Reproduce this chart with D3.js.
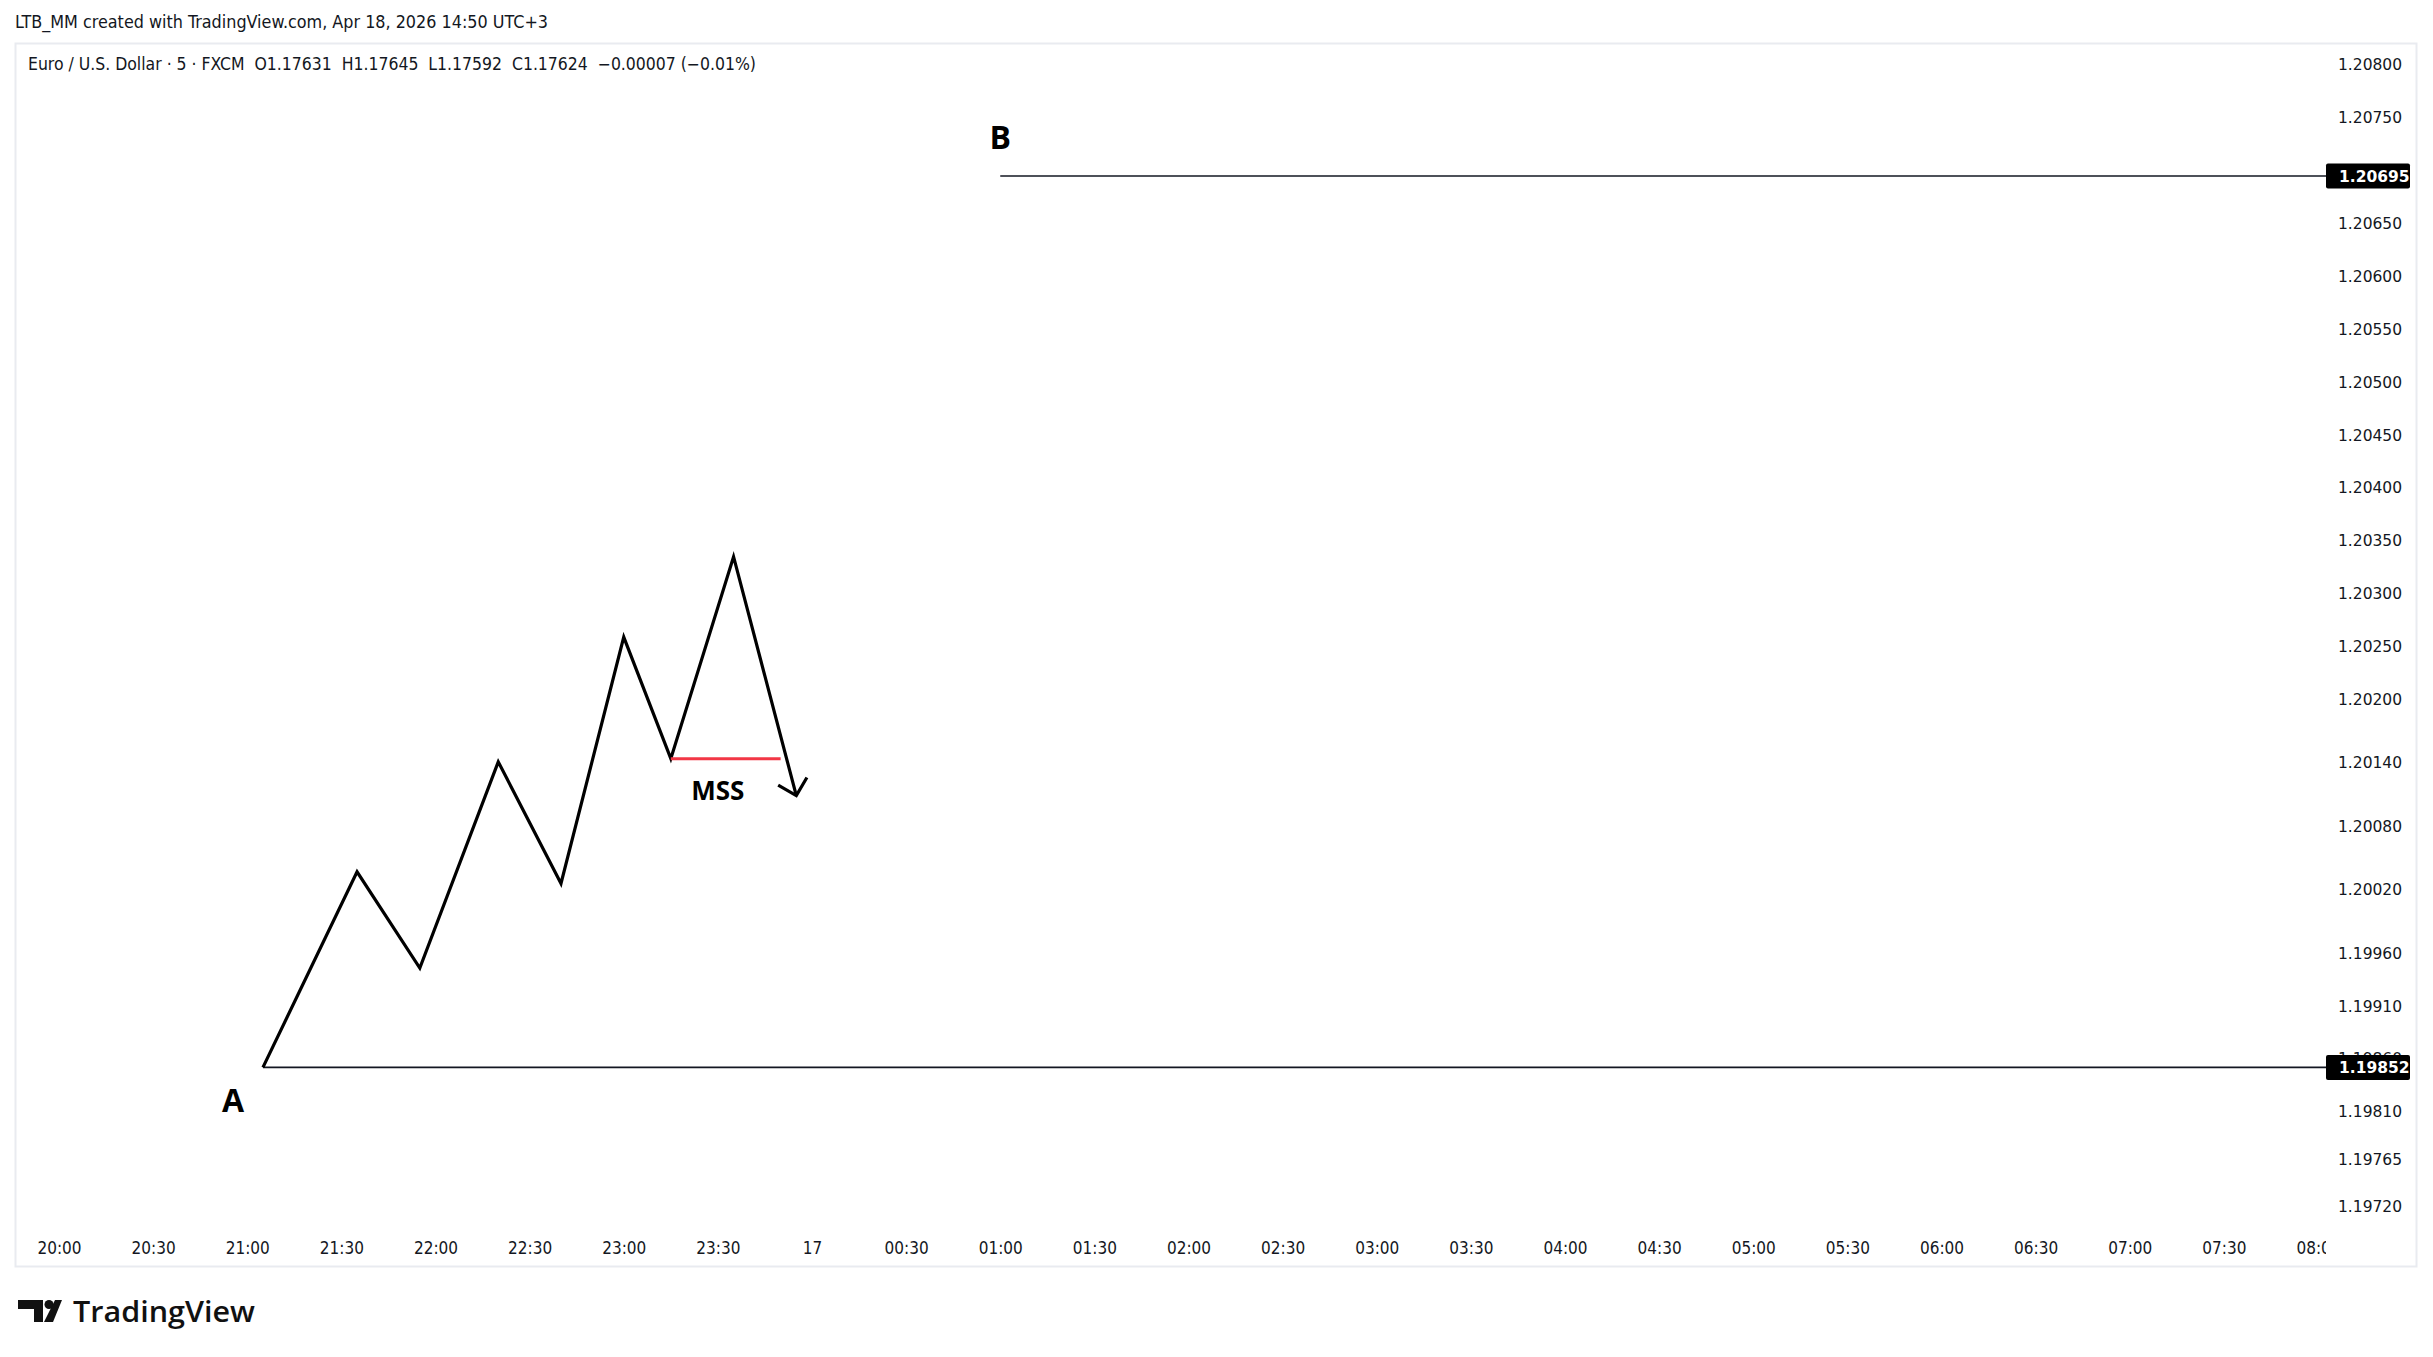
<!DOCTYPE html>
<html><head><meta charset="utf-8">
<script src="https://cdn.jsdelivr.net/npm/d3@7"></script>
<style>
html,body{margin:0;padding:0;background:#fff;}
svg{display:block;}
</style></head>
<body>
<svg id="chart" width="2433" height="1357"></svg>
<script>
// ---- data ----
const headerText = "LTB_MM created with TradingView.com, Apr 18, 2026 14:50 UTC+3";
const legendText = "Euro / U.S. Dollar · 5 · FXCM  O1.17631  H1.17645  L1.17592  C1.17624  −0.00007 (−0.01%)";
const timeTickLabels = ["20:00","20:30","21:00","21:30","22:00","22:30","23:00","23:30","17","00:30","01:00","01:30","02:00","02:30","03:00","03:30","04:00","04:30","05:00","05:30","06:00","06:30","07:00","07:30","08:00"];
const priceTicks = [1.20800,1.20750,1.20650,1.20600,1.20550,1.20500,1.20450,1.20400,1.20350,1.20300,1.20250,1.20200,1.20140,1.20080,1.20020,1.19960,1.19910,1.19860,1.19810,1.19765,1.19720];
const swingTimes  = ["21:05","21:35","21:55","22:20","22:40","23:00","23:15","23:35","23:55"];
const swingPrices = [1.19852,1.20037,1.19946,1.20141,1.20026,1.20259,1.20144,1.20335,1.20109];
const levelNames  = ["A","B"];
const levelPrices = [1.19852,1.20695];
const levelStarts = ["21:05","01:00"];
const mssTimes = ["23:15","23:50"];
const mssPrice = 1.20144;

// ---- helpers ----
function toDate(s){
  if (s === "17") return new Date(2026,3,17,0,0);
  const [h,m] = s.split(":").map(Number);
  return new Date(2026,3, h < 12 ? 17 : 16, h, m);
}
const svg = d3.select("#chart");
const W = 2433, H = 1357;
const frame = {x0:15.5, y0:43.5, x1:2416.5, y1:1266.5};
const plotRight = 2326;

const x = d3.scaleTime().domain([toDate("20:00"), toDate("08:00")]).range([59, 2318]);
const y = d3.scaleLinear().domain([1.19720, 1.20800]).range([1207, 65]);

const textFont = "'DejaVu Sans Condensed','Liberation Sans Narrow','DejaVu Sans',sans-serif";
const axisFont = "'DejaVu Sans',Verdana,sans-serif";

// background
svg.append("rect").attr("width",W).attr("height",H).attr("fill","#ffffff");
// frame
svg.append("rect").attr("x",frame.x0).attr("y",frame.y0)
  .attr("width",frame.x1-frame.x0).attr("height",frame.y1-frame.y0)
  .attr("fill","none").attr("stroke","#e9ebf0").attr("stroke-width",2);

// header
svg.append("text").attr("x",15).attr("y",28).text(headerText)
  .attr("font-family",textFont).attr("font-size",17).attr("fill","#131722")
  .attr("textLength",533).attr("lengthAdjust","spacingAndGlyphs");
// legend
svg.append("text").attr("x",28).attr("y",70).text(legendText)
  .attr("font-family",textFont).attr("font-size",17).attr("fill","#131722")
  .attr("textLength",728).attr("lengthAdjust","spacingAndGlyphs").style("white-space","pre");

// clip for time labels (in local coords of the axis group)
svg.append("clipPath").attr("id","timeClip").append("rect")
  .attr("x",frame.x0).attr("y",-30).attr("width",plotRight-frame.x0).attr("height",60);

// time axis
const tAxis = d3.axisBottom(x)
  .tickValues(timeTickLabels.map(toDate))
  .tickFormat((d,i)=>timeTickLabels[i])
  .tickSize(0).tickPadding(0);
const tg = svg.append("g").attr("transform","translate(0,1243)").attr("clip-path","url(#timeClip)").call(tAxis);
tg.select(".domain").remove();
tg.selectAll("text").attr("font-family",textFont).attr("font-size",17).attr("fill","#131722")
  .attr("dy","0.71em").attr("y",-1);

// price axis
const pAxis = d3.axisRight(y).tickValues(priceTicks).tickFormat(d3.format(".5f")).tickSize(0).tickPadding(0);
const pg = svg.append("g").attr("transform","translate(2338,0)").call(pAxis);
pg.select(".domain").remove();
pg.selectAll("text").attr("font-family",axisFont).attr("font-size",15.5).attr("fill","#131722").attr("text-anchor","start");

// horizontal levels A and B
levelPrices.forEach((p,i)=>{
  svg.append("line")
    .attr("x1",x(toDate(levelStarts[i]))).attr("x2",plotRight)
    .attr("y1",y(p)).attr("y2",y(p))
    .attr("stroke","#131722").attr("stroke-width",1.6);
  const yy = y(p);
  svg.append("rect").attr("x",plotRight).attr("y",yy-12.5).attr("width",84).attr("height",25)
    .attr("rx",2).attr("fill","#000");
  svg.append("text").attr("x",2339).attr("y",yy).attr("dy","0.36em").attr("text-anchor","start")
    .attr("font-family",axisFont).attr("font-weight","bold").attr("font-size",15.5).attr("fill","#fff")
    .text(d3.format(".5f")(p));
});

// zigzag
const pts = swingTimes.map((t,i)=>[x(toDate(t)), y(swingPrices[i])]);
svg.append("path").attr("d",d3.line()(pts))
  .attr("fill","none").attr("stroke","#000").attr("stroke-width",3.2)
  .attr("stroke-linejoin","miter").attr("stroke-linecap","butt");

// arrow head at final point
const tip = pts[pts.length-1], prev = pts[pts.length-2];
const ang = Math.atan2(prev[1]-tip[1], prev[0]-tip[0]);
const L = 21, spread = Math.PI/4;
const a1 = [tip[0]+L*Math.cos(ang-spread), tip[1]+L*Math.sin(ang-spread)];
const a2 = [tip[0]+L*Math.cos(ang+spread), tip[1]+L*Math.sin(ang+spread)];
svg.append("path").attr("d",d3.line()([a1,tip,a2]))
  .attr("fill","none").attr("stroke","#000").attr("stroke-width",3.2);

// MSS red line
svg.append("line")
  .attr("x1",x(toDate(mssTimes[0]))).attr("x2",x(toDate(mssTimes[1])))
  .attr("y1",y(mssPrice)).attr("y2",y(mssPrice))
  .attr("stroke","#f23645").attr("stroke-width",3);
const labelFont = "'Open Sans','DejaVu Sans',sans-serif";
svg.append("text").attr("x",(x(toDate(mssTimes[0]))+x(toDate(mssTimes[1])))/2 - 8).attr("y",y(mssPrice)+41)
  .attr("text-anchor","middle").attr("font-family",labelFont).attr("font-weight","bold")
  .attr("font-size",26).attr("fill","#000").text("MSS");

// A / B labels
svg.append("text").attr("x",x(toDate(levelStarts[0]))-30).attr("y",y(levelPrices[0])+45)
  .attr("text-anchor","middle").attr("font-family",labelFont).attr("font-weight","bold")
  .attr("font-size",32).attr("fill","#000").text(levelNames[0]);
svg.append("text").attr("x",x(toDate(levelStarts[1]))).attr("y",y(levelPrices[1])-27)
  .attr("text-anchor","middle").attr("font-family",labelFont).attr("font-weight","bold")
  .attr("font-size",32).attr("fill","#000").text(levelNames[1]);

// TradingView logo
const logo = svg.append("g").attr("transform","translate(18,1300)");
logo.append("path").attr("d","M0,0 H25 V22 H16 V9 H0 Z").attr("fill","#111");
logo.append("circle").attr("cx",31).attr("cy",4.5).attr("r",4.5).attr("fill","#111");
logo.append("path").attr("d","M37,0 H44 L35,22 H26 Z").attr("fill","#111");
svg.append("text").attr("x",73).attr("y",1322).text("TradingView")
  .attr("font-family","'Open Sans','DejaVu Sans',sans-serif").attr("font-weight","600")
  .attr("font-size",29).attr("fill","#111")
  .attr("textLength",182).attr("lengthAdjust","spacingAndGlyphs");
</script>
</body></html>
